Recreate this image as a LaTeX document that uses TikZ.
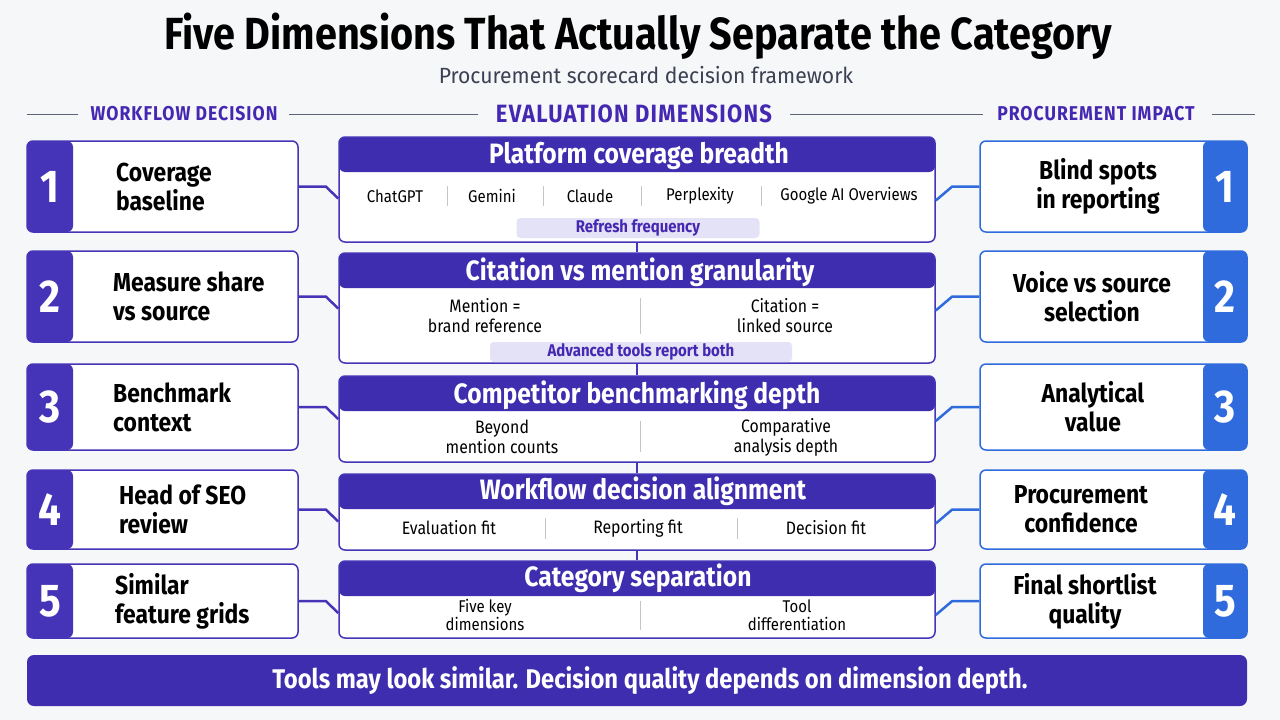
\documentclass[tikz,border=0pt]{standalone}
\usepackage{fontspec}
\setmainfont{Fira Sans}[FakeStretch=0.88]
\newfontfamily\spacedfont{Fira Sans}[FakeStretch=0.88, LetterSpace=5]
\newfontfamily\widefont{Fira Sans}[FakeStretch=0.96]
\usepackage{tikz}
\usetikzlibrary{positioning, calc}
\usepackage{xcolor}

\definecolor{bgc}{HTML}{F6F7F9}
\definecolor{purp}{HTML}{4634B8}
\definecolor{hdrc}{HTML}{3E2DAE}
\definecolor{labc}{HTML}{4528B2}
\definecolor{bluec}{HTML}{2F6BDC}
\definecolor{pillc}{HTML}{E4E2F6}
\definecolor{subc}{HTML}{3B4052}
\definecolor{rulec}{HTML}{5C6374}
\definecolor{divc}{HTML}{C4C4CC}

\begin{document}
\begin{tikzpicture}[x=1pt, y=-1pt]

% --- STYLES ---
\tikzstyle{dimbox} = [rectangle, rounded corners=6pt, draw=purp, line width=1.5pt, fill=white, minimum width=596pt, inner sep=0pt, path picture={\fill[hdrc] (path picture bounding box.north west) rectangle ([yshift=-35pt]path picture bounding box.north east);}]
\tikzstyle{wfbox} = [rectangle, rounded corners=6pt, draw=purp, line width=1.5pt, fill=white, minimum width=271pt, inner sep=0pt, path picture={\fill[purp] (path picture bounding box.south west) rectangle ([xshift=46pt]path picture bounding box.north west);}]
\tikzstyle{pibox} = [rectangle, rounded corners=6pt, draw=bluec, line width=1.5pt, fill=white, minimum width=267pt, inner sep=0pt, path picture={\fill[bluec] (path picture bounding box.south east) rectangle ([xshift=-44pt]path picture bounding box.north east);}]
\tikzstyle{num} = [text=white, font=\fontsize{46}{46}\selectfont\bfseries, inner sep=0pt]
\tikzstyle{sidetext} = [align=left, font=\fontsize{26}{29}\selectfont\bfseries, inner sep=0pt]
\tikzstyle{dimtitle} = [text=white, font=\fontsize{28}{30}\selectfont\bfseries, inner sep=0pt]
\tikzstyle{item} = [align=center, font=\fontsize{18}{20}\selectfont, inner sep=0pt]
\tikzstyle{pill} = [rectangle, rounded corners=4pt, fill=pillc, text=labc, minimum height=20pt, font=\fontsize{17}{18}\selectfont\bfseries, inner sep=0pt]
\tikzstyle{colhead} = [text=labc, font=\spacedfont\fontsize{20}{24}\selectfont\bfseries, inner sep=0pt]
\tikzstyle{divider} = [draw=divc, line width=1pt]
\tikzstyle{rule} = [draw=rulec, line width=1pt]
\tikzstyle{lconn} = [draw=purp, line width=2.5pt]
\tikzstyle{rconn} = [draw=bluec, line width=2.5pt]
\tikzstyle{vconn} = [draw=purp, line width=2pt]

% --- CANVAS ---
\fill[bgc] (0,0) rectangle (1280,720);

% --- TITLE ---
\node (title) [font=\fontsize{45}{48}\selectfont\bfseries, inner sep=0pt] at (638,36) {Five Dimensions That Actually Separate the Category};
\node (subtitle) [text=subc, font=\widefont\fontsize{22}{24}\selectfont, inner sep=0pt] at (646,75) {Procurement scorecard decision framework};

% --- COLUMN HEADINGS ---
\node (hwf) [colhead] at (184,114) {WORKFLOW DECISION};
\node (hev) [colhead, font=\spacedfont\fontsize{25}{28}\selectfont\bfseries] at (634,114) {EVALUATION DIMENSIONS};
\node (hpi) [colhead] at (1096,114) {PROCUREMENT IMPACT};
\draw[rule] (27,114) -- (78,114);
\draw[rule] (289,114) -- (478,114);
\draw[rule] (790,114) -- (983,114);
\draw[rule] (1212,114) -- (1255,114);

% --- WORKFLOW DECISION (left) ---
\node (wf1) [wfbox, minimum height=91pt] at (162.5,186.5) {};
\node (wf1n) [num] at (50,186.5) {1};
\node (wf1t) [sidetext, anchor=west] at (116,186.5) {Coverage\\baseline};

\node (wf2) [wfbox, minimum height=91pt] at (162.5,296.5) {};
\node (wf2n) [num] at (50,296.5) {2};
\node (wf2t) [sidetext, anchor=west] at (113,296.5) {Measure share\\vs source};

\node (wf3) [wfbox, minimum height=86pt] at (162.5,407) {};
\node (wf3n) [num] at (50,407) {3};
\node (wf3t) [sidetext, anchor=west] at (113,407) {Benchmark\\context};

\node (wf4) [wfbox, minimum height=79pt] at (162.5,509.5) {};
\node (wf4n) [num] at (50,509.5) {4};
\node (wf4t) [sidetext, anchor=west] at (119,509.5) {Head of SEO\\review};

\node (wf5) [wfbox, minimum height=74pt] at (162.5,601) {};
\node (wf5n) [num] at (50,601) {5};
\node (wf5t) [sidetext, anchor=west] at (115,601) {Similar\\feature grids};

% --- EVALUATION DIMENSIONS (centre) ---
% 1. Platform coverage
\node (dim1) [dimbox, minimum height=105pt] at (637,189.5) {};
\node (dim1t) [dimtitle] at (639,156) {Platform coverage breadth};
\node (chatgpt) [item, font=\fontsize{17}{20}\selectfont] at (395,196) {ChatGPT};
\node (gemini) [item, font=\fontsize{17}{20}\selectfont] at (492,196) {Gemini};
\node (claude) [item, font=\fontsize{17}{20}\selectfont] at (590,196) {Claude};
\node (perplexity) [item, font=\fontsize{17}{20}\selectfont] at (700,196) {Perplexity};
\node (aio) [item, font=\fontsize{17}{20}\selectfont] at (849,196) {Google AI Overviews};
\draw[divider] (447,186) -- (447,206);
\draw[divider] (543,186) -- (543,206);
\draw[divider] (641,186) -- (641,206);
\draw[divider] (761,186) -- (761,206);
\node (pill1) [pill, minimum width=243pt] at (638,228) {Refresh frequency};

% 2. Citation vs mention
\node (dim2) [dimbox, minimum height=110pt] at (637,308) {};
\node (dim2t) [dimtitle] at (640,272) {Citation vs mention granularity};
\node (mention) [item] at (485,316) {Mention =\\brand reference};
\node (citation) [item] at (785,316) {Citation =\\linked source};
\draw[divider] (640,298) -- (640,334);
\node (pill2) [pill, minimum width=302pt] at (641,352) {Advanced tools report both};

% 3. Competitor benchmarking
\node (dim3) [dimbox, minimum height=86pt] at (637,419) {};
\node (dim3t) [dimtitle] at (637,395) {Competitor benchmarking depth};
\node (beyond) [item] at (502,437) {Beyond\\mention counts};
\node (compar) [item] at (786,437) {Comparative\\analysis depth};
\draw[divider] (640,421) -- (640,452);

% 4. Workflow alignment
\node (dim4) [dimbox, minimum height=76pt] at (637,512) {};
\node (dim4t) [dimtitle] at (643,491) {Workflow decision alignment};
\node (evalfit) [item] at (449,528) {Evaluation fit};
\node (repfit) [item] at (638,528) {Reporting fit};
\node (decfit) [item] at (826,528) {Decision fit};
\draw[divider] (545,518) -- (545,539);
\draw[divider] (737,518) -- (737,539);

% 5. Category separation
\node (dim5) [dimbox, minimum height=77pt] at (637,599.5) {};
\node (dim5t) [dimtitle] at (638,578) {Category separation};
\node (fivekey) [item, font=\fontsize{17}{18}\selectfont] at (485,615) {Five key\\dimensions};
\node (tooldiff) [item, font=\fontsize{17}{18}\selectfont] at (797,615) {Tool\\differentiation};
\draw[divider] (640,601) -- (640,630);

% --- PROCUREMENT IMPACT (right) ---
\node (pi1) [pibox, minimum height=91pt] at (1113.5,186.5) {};
\node (pi1n) [num] at (1225,186.5) {1};
\node (pi1t) [sidetext, align=center] at (1098,186.5) {Blind spots\\in reporting};

\node (pi2) [pibox, minimum height=91pt] at (1113.5,296.5) {};
\node (pi2n) [num] at (1225,296.5) {2};
\node (pi2t) [sidetext, align=center] at (1092,296.5) {Voice vs source\\selection};

\node (pi3) [pibox, minimum height=86pt] at (1113.5,407) {};
\node (pi3n) [num] at (1225,407) {3};
\node (pi3t) [sidetext, align=center] at (1093,407) {Analytical\\value};

\node (pi4) [pibox, minimum height=79pt] at (1113.5,509.5) {};
\node (pi4n) [num] at (1225,509.5) {4};
\node (pi4t) [sidetext, align=center] at (1081,509.5) {Procurement\\confidence};

\node (pi5) [pibox, minimum height=74pt] at (1113.5,601) {};
\node (pi5n) [num] at (1225,601) {5};
\node (pi5t) [sidetext, align=center] at (1085,601) {Final shortlist\\quality};

% --- SUMMARY BANNER ---
\node (banner) [rectangle, rounded corners=7pt, minimum width=1220pt, minimum height=51pt, left color=hdrc, middle color=purp!85!blue, right color=hdrc, inner sep=0pt] at (637,680.5) {};
\node (bannert) [text=white, font=\fontsize{27}{28}\selectfont\bfseries, inner sep=0pt] at (650,681) {Tools may look similar. Decision quality depends on dimension depth.};

% --- CONNECTORS ---
\draw[vconn] (dim1.south) -- (dim2.north);
\draw[vconn] (dim2.south) -- (dim3.north);
\draw[vconn] (dim3.south) -- (dim4.north);
\draw[vconn] (dim4.south) -- (dim5.north);

\draw[lconn] (wf1.east) -- ++(27,0) -- ($(wf1.east -| dim1.west)+(0,12)$);
\draw[lconn] (wf2.east) -- ++(27,0) -- ($(wf2.east -| dim2.west)+(0,12)$);
\draw[lconn] (wf3.east) -- ++(27,0) -- ($(wf3.east -| dim3.west)+(0,12)$);
\draw[lconn] (wf4.east) -- ++(27,0) -- ($(wf4.east -| dim4.west)+(0,12)$);
\draw[lconn] (wf5.east) -- ++(27,0) -- ($(wf5.east -| dim5.west)+(0,12)$);

\draw[rconn] (pi1.west) -- ++(-27,0) -- ($(pi1.west -| dim1.east)+(0,14)$);
\draw[rconn] (pi2.west) -- ++(-27,0) -- ($(pi2.west -| dim2.east)+(0,14)$);
\draw[rconn] (pi3.west) -- ++(-27,0) -- ($(pi3.west -| dim3.east)+(0,14)$);
\draw[rconn] (pi4.west) -- ++(-27,0) -- ($(pi4.west -| dim4.east)+(0,14)$);
\draw[rconn] (pi5.west) -- ++(-27,0) -- ($(pi5.west -| dim5.east)+(0,14)$);

\end{tikzpicture}
\end{document}
